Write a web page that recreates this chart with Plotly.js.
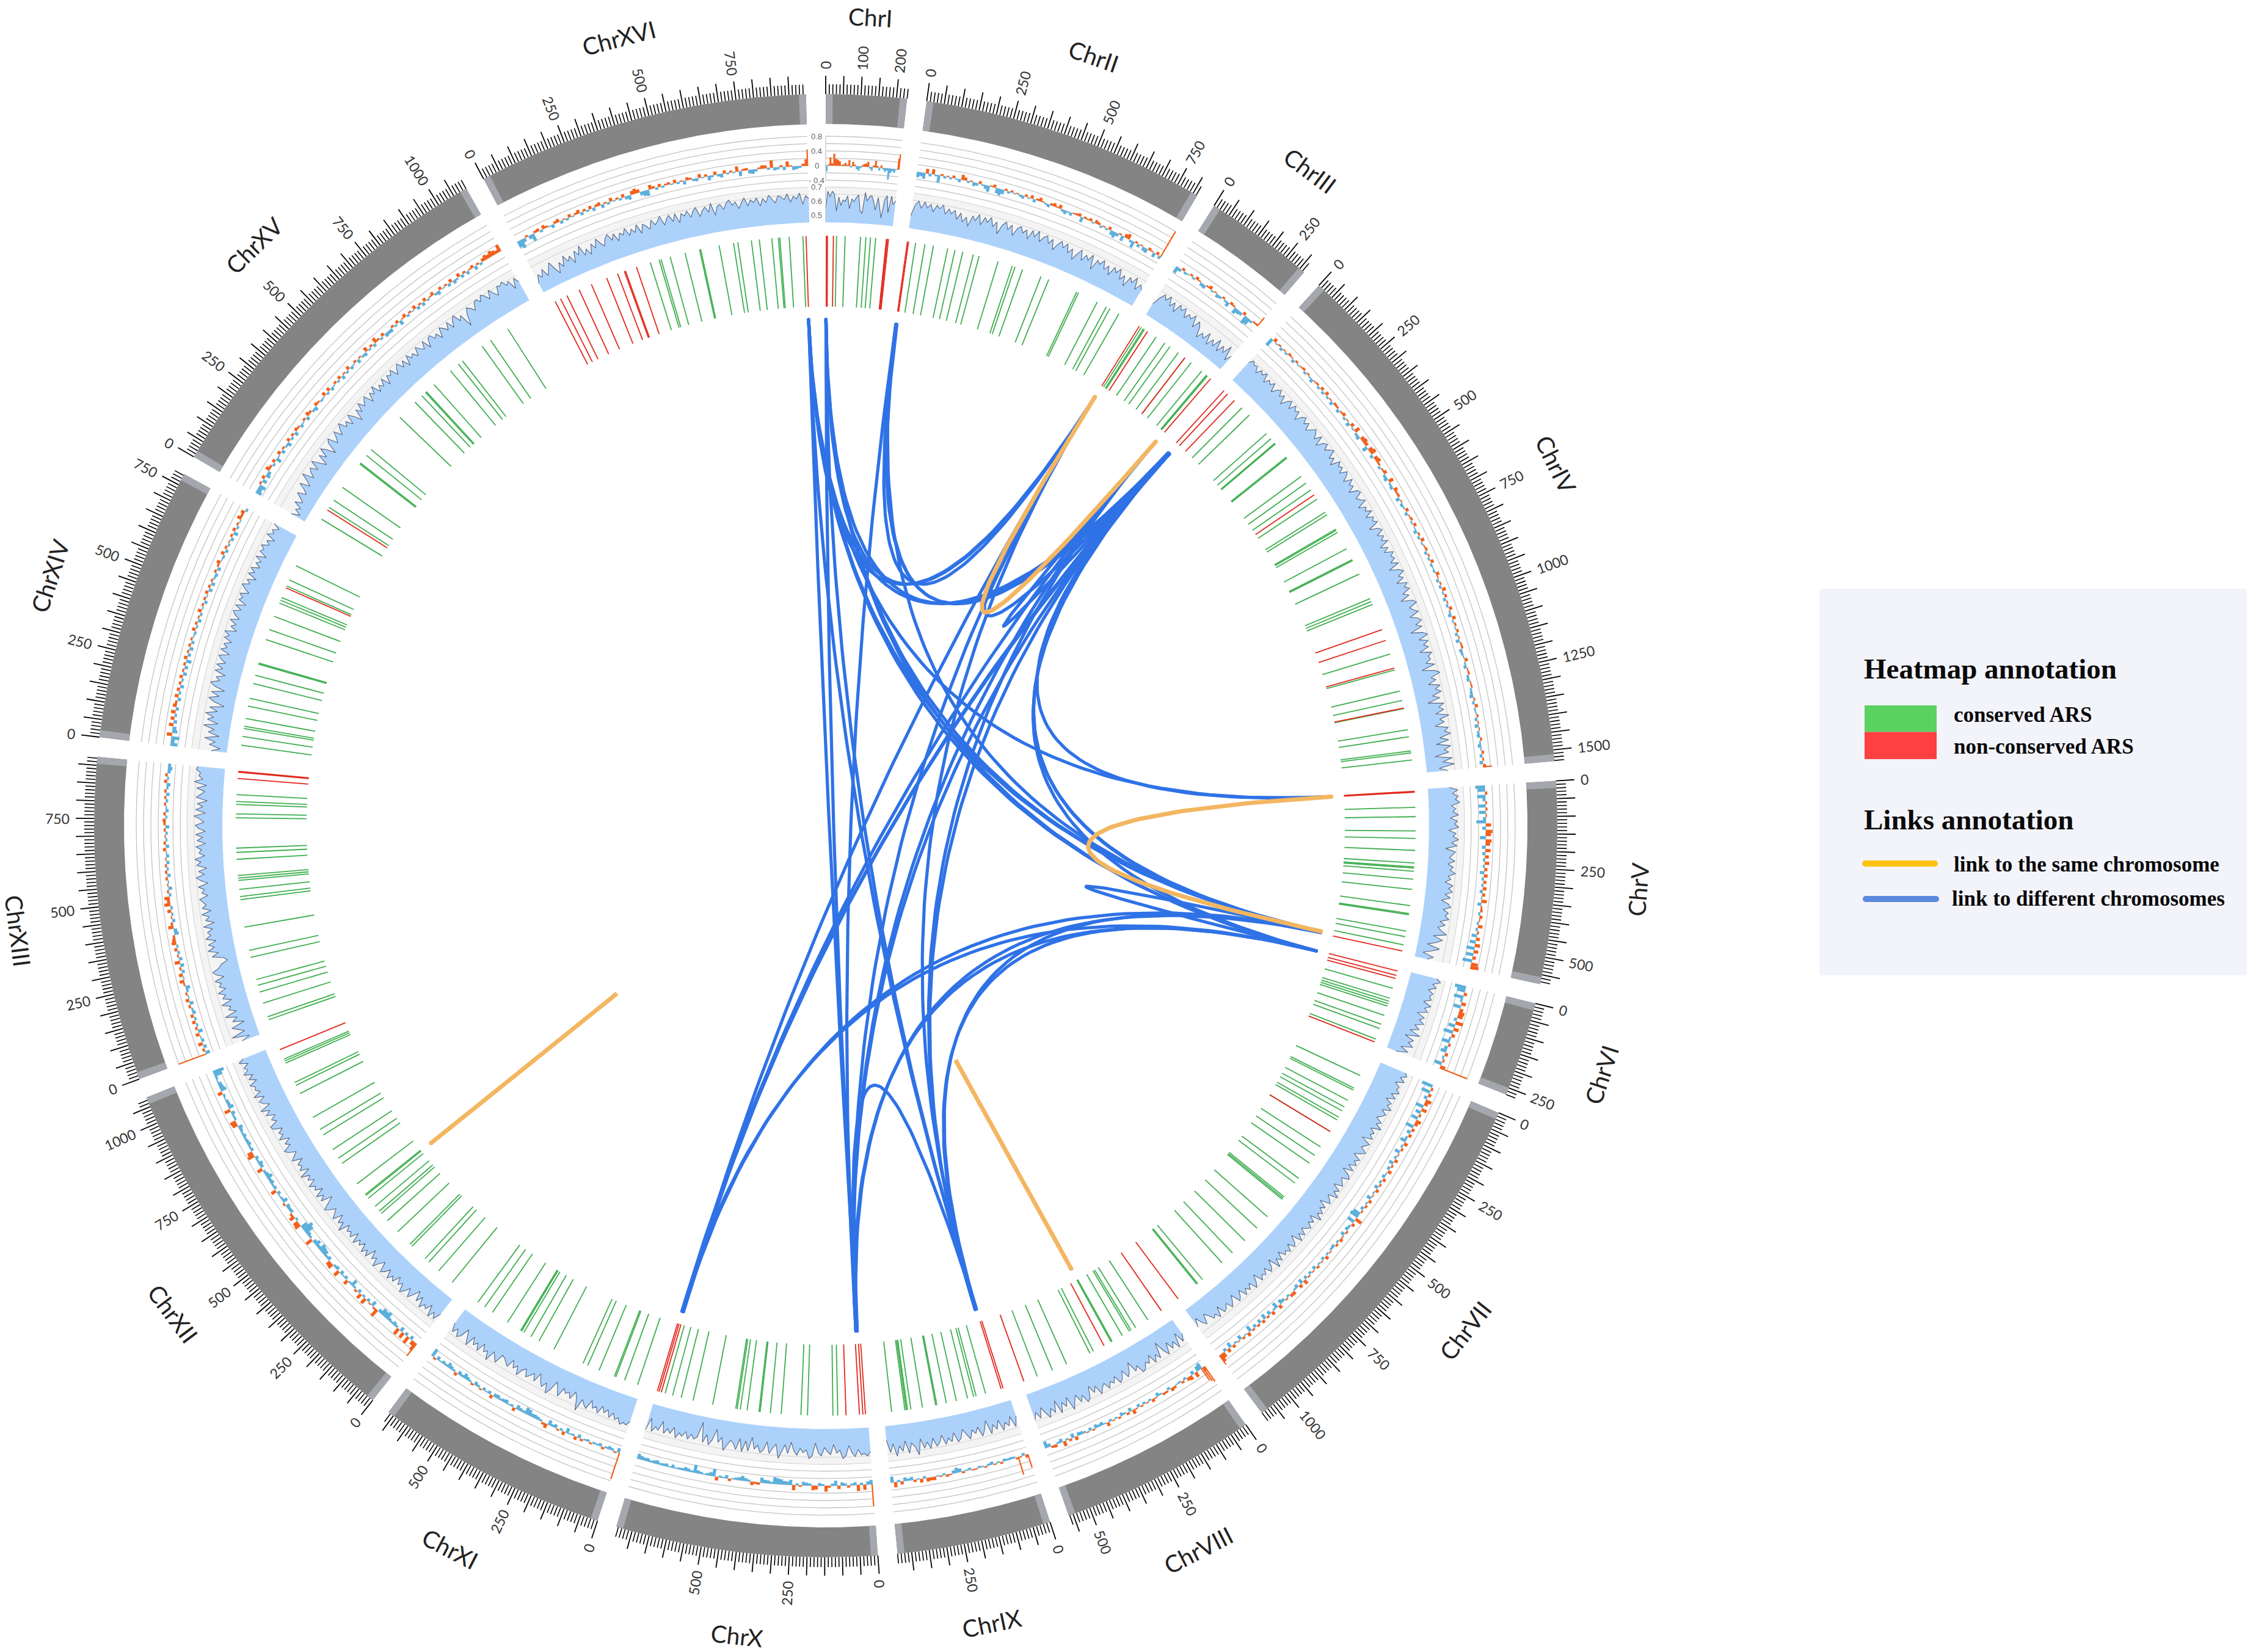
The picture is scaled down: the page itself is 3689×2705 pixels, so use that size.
<!DOCTYPE html>
<html><head><meta charset="utf-8">
<script src="https://cdn.plot.ly/plotly-3.0.1.min.js"></script>
<style>html,body{margin:0;padding:0;background:#fff}#c{width:3689px;height:2705px}</style>
</head><body><div id="c"></div>
<script>
const chromNames=["ChrI","ChrII","ChrIII","ChrIV","ChrV","ChrVI","ChrVII","ChrVIII","ChrIX","ChrX","ChrXI","ChrXII","ChrXIII","ChrXIV","ChrXV","ChrXVI"];
const chromLengthsKb=[230,813,316,1532,577,270,1091,563,440,746,667,1078,924,784,1091,948];
const labelStepKb=[100,250,250,250,250,250,250,250,250,250,250,250,250,250,250,250];
const skewAxisTicks=[0.8,0.6,0.4,0.2,0,-0.2,-0.4];
const skewAxisLabels=["0.8","0.4","0","- 0.4"];
const skewAxisLabelValues=[0.8,0.4,0,-0.4];
const gcAxisTicks=[0.7,0.6,0.5];

const arsConservedI=[38,68,122,141,157,175], arsNonI=[2,6,27,213,216,220];
const arsConservedII=[30,63,93,144,170,198,236,257,326,378,388,416,485,514,621,628,701,737,751,787], arsNonII=[1,5];
const arsConservedIII=[10,19,23,72,109,131,167,196,224,271,293,297], arsNonIII=[2,36,196,312];
const arsConservedIV=[90,126,214,238,259,262,322,326,407,436,465,504,558,569,628,632,641,706,749,753,805,899,910,921,1105,1163,1239,1273,1302,1377,1402,1452,1459,1484], arsNonIV=[3,20,53,486,1015,1055,1156,1300];
const arsConservedV=[62,95,145,171,213,257,271,275,286,314,350,407,435,439,497,517,546], arsNonV=[6,9,568];
const arsConservedVI=[70,106,117,126,135,169,202,218,257], arsNonVI=[7,23,34,268];
const arsConservedVII=[70,119,126,167,193,209,234,245,292,356,392,425,490,511,572,578,583,663,717,778,839,889,979,1001,1005], arsNonVII=[292,1088];
const arsConservedVIII=[70,121,139,146,175,216,220,290,304,394,448,505], arsNonVIII=[13,248,555];
const arsConservedIX=[77,111,120,142,182,218,252,256,303,344,356,360,365,412], arsNonIX=[13,20];
const arsConservedX=[105,122,211,234,303,341,377,381,423,447,458,463,545,615,658,689,716], arsNonX=[8,17,29,76,730,738,744];
const arsConservedXI=[15,63,96,101,159,202,220,333,393,425,454,463,467,521,584,617,646], arsNonXI=[];
const arsConservedXII=[37,99,145,163,226,236,297,350,383,394,416,453,466,470,517,606,628,664,725,747,796,891,923,934,1009,1017,1024], arsNonXII=[1060];
const arsConservedXIII=[38,49,99,140,164,185,265,290,373,470,481,506,538,546,555,612,636,651,757,771,804,814,838], arsNonXIII=[895,917,920];
const arsConservedXIV=[32,63,91,99,127,171,199,252,282,322,326,412,449,498,548,559,569,613,636,691], arsNonXIV=[606];
const arsConservedXV=[37,86,116,170,272,276,310,336,487,562,595,612,616,653,728,764,782,868,904,976], arsNonXV=[75];
const arsConservedXVI=[381,413,420,453,507,559,563,629,680,695,743,771,815,838,843,876,924], arsNonXVI=[21,42,67,114,161,219,260,285,289,330,935];

// GC content (percent) read along each chromosome
const gcI=[55,67,63,67,65,53,63,57,61,60,64,55,62,60,63,65,54,52,67,61,64,65,61,55,64,57,50,63,66,54,66,60,63];
const gcII=[54,62,65,60,65,61,64,59,64,62,65,59,63,60,63,57,62,56,60,54,62,59,64,57,63,60,64,58,62,54,61,64,59,63,56,62,64,60,63,57,64,60,65,58,62,64,59,63,56,61,64,60,64,58,62,55,60,64,57,62,59,64,54,62,60,64,58,62,56,63,60,64,57,61,54,62,59,64,56,61,58];
const gcIII=[54,60,64,61,65,59,63,57,64,61,64,58,62,60,64,56,62,59,52,57,54,60,52,58,54,61,53,59,55,62,52,57];
const gcIV=[62,65,63,64,60,64,62,65,59,63,61,64,58,62,64,60,63,57,62,64,59,64,61,63,57,62,64,60,63,58,61,64,62,59,64,57,62,64,60,63,65,59,62,57,64,61,63,59,64,62,58,64,60,62,57,63,64,59,61,64,57,62,60,64,58,63,61,64,56,62,64,59,63,60,64,57,62,58,64,61,63,59,64,56,62,65,60,63,57,64,61,64,58,62,55,63,65,59,61,64,57,62,64,59,63,54,62,65,58,64,60,63,56,64,61,62,58,64,54,63,66,59,62,56,64,60,64,57,62,53,64,60,63,57,66,59,62,55,64,61,65,57,63,54,64,59,62,52,64,57,65,54,60];
const gcV=[60,66,62,66,64,67,61,64,62,66,60,65,63,66,59,64,62,66,61,65,57,64,62,60,64,59,63,61,65,60,62,58,64,61,64,59,63,57,62,64,59,63,61,64,58,62,57,60,64,55,62,58,52,61,56,50,58,54];
const gcVI=[64,67,62,65,60,64,62,64,59,65,61,64,57,63,60,64,58,62,56,64,54,61,58,62,54,60,52];
const gcVII=[64,66,62,66,60,64,63,66,61,65,59,64,62,66,60,64,62,59,64,61,66,59,63,61,64,57,64,62,60,65,62,58,64,61,64,59,64,57,63,65,60,62,64,58,64,61,66,59,62,64,57,63,60,64,61,66,58,63,60,64,62,59,64,60,65,57,62,64,59,64,61,63,58,64,60,66,57,62,64,59,63,61,64,57,62,65,59,63,60,64,58,62,64,57,61,64,59,62,63,57,64,60,62,58,55,62,59,54,60];
const gcVIII=[57,62,54,64,58,62,56,64,60,52,63,59,64,57,62,60,64,65,59,62,54,60,63,57,62,64,58,62,60,64,59,61,65,58,62,56,64,66,60,64,58,62,67,57,63,59,66,56,64,60,66,62,57,64,59,64];
const gcIX=[57,64,56,62,59,64,56,62,58,64,54,60,64,57,61,58,64,60,56,62,64,57,63,60,64,57,62,64,58,65,60,64,57,68,62,59,66,57,64,60,67,58,64,55];
const gcX=[62,65,63,64,60,65,62,57,64,66,60,62,56,63,61,58,64,62,55,64,66,60,62,59,64,61,55,63,57,62,67,57,60,64,56,62,64,59,62,54,64,57,65,56,64,60,58,62,66,57,61,52,60,64,57,63,49,60,62,59,63,58,62,60,64,57,62,59,63,55,62,60,64,55,64];
const gcXI=[62,65,64,66,62,64,60,64,59,62,58,64,60,62,57,64,62,59,68,60,56,62,58,60,57,64,59,55,62,66,59,63,60,55,62,57,60,62,57,59,64,58,61,56,62,60,58,57,64,61,58,66,60,62,57,64,59,62,57,65,60,55,62,64,59,63,57];
const gcXII=[58,64,60,65,57,62,60,64,57,62,55,60,64,58,62,65,59,62,57,63,60,64,58,62,64,57,60,65,59,62,56,64,60,64,58,62,59,64,57,63,60,62,58,66,60,63,57,64,61,58,62,65,60,55,63,59,64,57,62,60,64,58,62,59,65,57,63,60,62,57,64,61,58,63,65,59,62,57,64,60,62,58,64,65,59,62,58,64,60,66,58,62,64,59,66,60,63,62,65,59,64,60,66,62,64,60,66,62];
const gcXIII=[58,52,64,54,58,62,52,60,56,64,55,60,58,64,56,62,59,64,58,62,60,64,57,62,64,59,57,52,54,62,57,64,59,63,57,64,60,62,58,64,56,62,59,64,57,63,60,62,64,58,62,60,64,57,62,65,59,63,57,64,61,65,58,62,60,64,57,63,59,64,57,62,64,58,61,65,57,64,59,63,56,64,61,58,64,57,66,60,63,62,65,64];
const gcXIV=[56,50,58,54,62,52,60,56,64,54,62,58,64,56,62,52,60,64,57,63,54,62,65,59,62,56,64,59,64,58,62,64,57,64,60,63,58,64,61,65,57,62,59,64,58,62,64,59,64,57,63,61,64,58,62,65,60,63,57,64,60,64,58,62,59,64,57,63,61,64,59,62,57,64,60,62,58,63];
const gcXV=[56,50,55,52,58,53,56,60,54,57,62,55,59,64,56,60,62,57,64,59,54,62,57,64,60,54,62,64,57,60,64,58,62,65,59,62,57,64,60,54,62,58,64,59,62,64,57,63,60,65,58,62,59,64,57,63,61,64,58,62,64,59,63,57,64,60,62,58,64,61,59,64,57,63,64,60,62,57,64,62,59,64,58,63,65,59,62,52,60,64,62,59,64,65,62,66,64,60,66,62,59,65,64,66,62,64,57,64,60];
const gcXVI=[52,58,55,60,54,58,62,56,52,59,55,62,57,60,54,62,58,64,56,60,55,62,58,64,60,57,62,64,59,63,57,62,60,64,58,62,59,64,57,63,61,58,64,60,62,65,58,62,64,59,64,57,63,61,64,59,63,65,58,62,64,60,66,57,63,64,60,64,66,62,64,59,63,66,60,64,62,65,59,64,61,66,63,60,65,64,62,66,60,64,62,66,58,64,62];

// GC skew (hundredths) read along each chromosome; short telomeric spikes are listed apart
const skewI=[-16,3,22,6,32,18,16,12,2,4,8,3,16,-4,12,4,-8,-12,-5,4,7,9,14,-5,-10,5,18,4,-8,7,-4,-10,-6,-30,-12,-6,-10,-2,30];
const skewII=[-14,-10,-16,12,-7,14,-4,-20,5,-6,3,-5,7,-3,-8,14,8,-5,3,-10,-7,7,-4,-10,-16,3,8,-14,-18,-12,5,-6,5,-3,3,-5,-8,6,-3,9,-8,5,10,3,-4,-8,6,9,3,10,-6,-10,-3,-8,3,5,8,-14,5,3,7,-4,9,6,-6,3,-5,8,-12,-16,-8,4,-14,10,14,-6,-18,5,-8,3,-10,-12,7,3,-12,8,-8];
const skewIII=[-18,-8,7,-6,-3,5,-5,8,3,-8,-10,4,9,-4,3,-9,-6,5,-5,-12,7,4,-16,-10,-8,8,-22,-18,-6,4,5];
const skewIV=[-22,9,-3,4,-7,3,-5,6,3,-8,5,-3,3,6,-6,4,-3,-9,3,5,-6,8,-7,9,-5,3,-9,6,5,-8,4,8,-6,3,-10,9,-4,14,-7,-10,10,13,9,-14,12,16,-8,10,13,5,-6,4,9,-7,-10,13,-5,-8,10,5,6,-10,3,-7,-4,8,-8,3,6,-4,8,-3,-9,5,-6,9,-4,3,6,-7,4,-5,8,-6,-3,-5,9,3,-7,4,-6,10,-4,6,-8,3,-6,8,-4,-9,9,-4,5,-3,6,-7,3,-10,4,5,-8,-6,-3,8,-4,-8,3,5,-6,-8,3,4,-5,-7,-10,4,-6,8,-4,-3,5,-7,3,-10,3,-6,-8,5,-4,-9,-3,6,-7,4,-9,8];
const skewV=[-26,-20,6,-22,-8,4,-20,5,-18,3,-8,-26,14,-10,18,14,-16,16,12,-10,14,-8,10,-6,12,-5,8,-12,10,-6,8,-5,10,-8,8,-3,14,-10,4,6,-5,8,3,-5,12,-6,5,-14,10,-16,14,-22,12,-20,9,-26,18,22];
const skewVI=[-30,-22,8,-26,-6,12,-20,10,16,14,-8,20,-18,14,-26,9,-5,-22,6,-9,-16,8,-5,5,-20,14];
const skewVII=[-30,6,-24,8,-9,16,10,-22,14,-14,6,-18,14,9,-22,8,-10,8,-6,-16,10,-5,6,-14,3,-6,9,-12,5,-8,10,-3,-8,8,-6,5,-10,8,-4,3,-12,8,-4,6,-8,4,-20,-24,18,-20,8,-6,-9,5,-10,3,8,-5,6,-8,-6,3,-5,9,-7,3,-4,6,-9,3,-7,4,-8,12,-12,9,-10,-5,9,8,-6,4,-8,-12,10,-16,-5,9,-10,5,-14,8,-10,6,-8,5,-16,10,-3,6,-12,3,-5,8,-14,10,-8,14,22];
const skewVIII=[12,-18,-14,14,-10,12,9,-6,6,-5,-3,6,9,-7,5,6,-4,-10,3,8,-5,3,-6,4,-8,3,12,-10,6,-5,-9,5,-4,3,-6,10,-3,-9,-6,-10,4,-8,3,-5,-8,-9,10,-12,6,-5,14,-10,-5,8,6,-9,-18];
const skewIX=[8,-7,3,5,-5,-6,-5,-7,5,-4,3,-8,-5,4,-3,-5,3,3,-6,-3,5,-10,-14,-8,3,6,-5,3,-3,9,8,10,-6,10,-3,6,-9,-6,-10,8,-5,14,-16];
const skewX=[-12,-9,14,-6,16,-8,-5,6,-6,-9,9,-14,-6,5,16,-5,-8,10,12,-6,-8,-10,4,-5,14,-14,-9,-10,-14,-16,-18,-5,-8,-9,-14,6,5,9,-5,-8,-13,-8,-6,-3,6,-9,-3,-5,10,-20,-10,-6,-3,-6,-8,-22,-5,-8,-10,-6,-5,-3,-9,-3,-8,-6,-5,-10,-8,-5,-9,-8,-10,-14];
const skewXI=[-12,4,-6,-9,-5,6,-8,-4,-5,4,-6,-4,6,-10,9,-5,-3,-14,9,-6,4,-10,-6,-14,12,6,-5,-8,-10,-9,-16,-18,-6,-8,-12,9,-6,-3,-10,-8,-5,-10,-9,9,-8,-3,-8,4,-6,-10,5,-5,-9,-14,-6,-10,8,-5,-9,-14,-5,-8,-3,-10,5,-22];
const skewXII=[24,12,-10,20,-8,16,-12,18,-6,-10,-5,-8,-20,-16,-18,-9,22,5,-14,3,-8,16,-6,14,-9,6,-5,-18,-5,12,-8,-3,-10,16,-9,-6,14,12,-10,-6,-14,-16,-20,-8,-16,-10,18,-6,-10,-24,-30,-18,16,14,-6,14,6,-9,-8,-10,5,-14,-6,-3,-9,14,-8,-5,-10,-8,-16,-10,-6,14,-9,-12,-5,-9,18,14,-8,-5,-10,-8,-6,-9,-5,-8,-12,14,16,-6,-5,-10,16,-14,-9,-8,-3,-6,12,-16,-12,-10,-3,-6,-22,-30];
const skewXIII=[-12,6,-9,12,-8,-3,10,-12,6,-5,9,-6,8,-9,-5,6,-10,9,-3,5,-6,-12,4,12,-3,10,-8,5,-10,14,-9,4,-6,8,-5,12,9,6,-12,-9,14,6,-8,3,-5,10,-6,16,8,14,-6,5,-10,3,-3,6,-9,6,-5,5,-8,3,-8,-3,8,-9,6,-5,3,-6,5,-10,6,8,-5,6,-8,-3,5,-6,5,-9,6,-5,-10,8,-5,6,-8,-12,-8];
const skewXIV=[-18,-10,-22,14,-14,-10,12,-9,10,-6,12,-8,10,6,-9,10,-6,8,-10,6,-5,8,-10,5,-9,6,-14,9,-8,5,-10,6,-8,5,-3,-6,9,-5,6,-9,4,-6,10,-3,5,-8,6,-3,8,-9,6,-10,5,-5,-8,6,-9,5,10,-3,-6,9,-8,6,-5,3,-8,6,-12,8,-6,5,-3,12,6,10,-6];
const skewXV=[-16,-12,-18,5,-12,8,-12,-9,12,6,-6,8,-14,-3,9,-9,5,-5,-12,8,-6,6,-10,8,5,-8,-3,6,-9,10,6,-6,-10,8,5,-5,-3,10,-6,9,-8,-3,6,-5,8,-10,4,-6,9,-8,-3,6,-10,4,-6,-9,12,-5,6,-8,14,5,-6,8,-10,-8,-9,6,-5,8,-12,3,9,-6,5,-3,10,-8,5,-9,9,-5,3,9,-6,-10,8,-3,5,-8,9,-10,-5,10,-8,6,-9,3,8,-10,5,-6,9,14,10,16,12,8,20];
const skewXVI=[-18,-24,-10,5,-10,-20,6,8,-6,10,5,-3,-9,6,9,-8,3,-6,8,-3,5,10,-8,6,-5,8,-9,6,9,-10,4,-6,10,-3,5,-6,9,-8,-12,10,14,9,-10,-14,-16,12,6,-6,8,-5,4,6,-3,9,-5,3,-10,8,5,-6,-8,10,-3,6,-12,-5,9,-6,-10,8,-4,5,-3,14,-14,5,6,-10,-12,-6,4,9,8,-5,20,-8,-6,5,-9,14,3,-10,-8,-5,6,18];
// thin spikes: [chromosome index, kb, skew value]
const skewSpikes=[[0,229,0.42],[1,812,0.8],[2,315,0.3],[3,1530,0.24],[4,576,0.12],[5,269,0.8],[6,1090,0.3],[7,1,0.5],[7,7,0.45],[7,13,0.38],[8,1,0.38],[8,32,0.5],[9,2,0.6],[10,1,0.75],[11,2,0.42],[12,1,0.8],[15,947,0.45]];

const gcTracks=[gcI,gcII,gcIII,gcIV,gcV,gcVI,gcVII,gcVIII,gcIX,gcX,gcXI,gcXII,gcXIII,gcXIV,gcXV,gcXVI];
const skewTracks=[skewI,skewII,skewIII,skewIV,skewV,skewVI,skewVII,skewVIII,skewIX,skewX,skewXI,skewXII,skewXIII,skewXIV,skewXV,skewXVI];
const arsC=[arsConservedI,arsConservedII,arsConservedIII,arsConservedIV,arsConservedV,arsConservedVI,arsConservedVII,arsConservedVIII,arsConservedIX,arsConservedX,arsConservedXI,arsConservedXII,arsConservedXIII,arsConservedXIV,arsConservedXV,arsConservedXVI];
const arsN=[arsNonI,arsNonII,arsNonIII,arsNonIV,arsNonV,arsNonVI,arsNonVII,arsNonVIII,arsNonIX,arsNonX,arsNonXI,arsNonXII,arsNonXIII,arsNonXIV,arsNonXV,arsNonXVI];

// link ends: [chromosome index, kb]
const hubA=[15,934], hubB=[0,1], hubC=[1,1], hubC2=[1,5], hubD=[2,2], hubE=[2,310], hubF=[3,7], hubF2=[3,13], hubG=[4,8], hubH=[4,560], hubH2=[4,565], hubI=[5,9], hubK=[8,20], hubK2=[8,25], hubL=[9,19], hubL2=[9,24], hubM=[9,735], hubM2=[9,741], hubJ=[7,218], hubR=[11,466];
const linksSame=[[hubD,hubE],[hubG,hubH],[hubJ,hubJ],[hubR,hubR]];
const linksDifferent=[[hubA,hubD],[hubB,hubD],[hubC,hubD],[hubA,hubF],[hubB,hubF],[hubC,hubF],[hubC2,hubF2],[hubD,hubF],[hubE,hubF2],[hubF,hubG],[hubF,hubH],[hubF2,hubI],[hubF,hubH2],[hubA,hubG],[hubA,hubH],[hubA,hubI],[hubB,hubH],[hubB,hubI],[hubC,hubH],[hubA,hubK],[hubB,hubK],[hubD,hubK],[hubE,hubK2],[hubF,hubK2],[hubA,hubL],[hubB,hubL],[hubC,hubL2],[hubD,hubL],[hubE,hubL2],[hubF,hubL2],[hubD,hubM],[hubE,hubM],[hubF,hubM],[hubF2,hubM2],[hubF2,hubM],[hubH,hubI],[hubH,hubK],[hubI,hubK2],[hubH2,hubL],[hubI,hubL2],[hubH,hubM],[hubI,hubM2],[hubK,hubL]];

// ---- geometry
const GAP=1.55, R_OUT=1198, R_IN=1149, CAP=0.55;
const total=chromLengthsKb.reduce((a,b)=>a+b,0);
const K=(360-16*GAP)/total;
const starts=[];{let a=0;chromLengthsKb.forEach(l=>{starts.push(a);a+=l*K+GAP;});}
const ang=(c,kb)=>starts[c]+kb*K;
const px=(a,r)=>r*Math.sin(a*Math.PI/180), py=(a,r)=>-r*Math.cos(a*Math.PI/180);
const rSkew=v=>1081+v*60, rGC=v=>999.5+(v-0.5)*232;
function pushArc(X,Y,a0,a1,r){const n=Math.max(2,Math.ceil(Math.abs(a1-a0)/0.2));for(let i=0;i<=n;i++){const a=a0+(a1-a0)*i/n;X.push(px(a,r));Y.push(py(a,r));}}
function band(list,r0,r1){const X=[],Y=[];list.forEach(([a0,a1])=>{pushArc(X,Y,a0,a1,r1);pushArc(X,Y,a1,a0,r0);X.push(px(a0,r1),null);Y.push(py(a0,r1),null);});return [X,Y];}
function poly(X,Y,color,extra){return Object.assign({x:X,y:Y,mode:'lines',type:'scatter',fill:'toself',fillcolor:color,line:{width:0,color:color},hoverinfo:'skip',showlegend:false},extra||{});}
function lines(X,Y,color,w){return {x:X,y:Y,mode:'lines',type:'scatter',line:{width:w,color:color},hoverinfo:'skip',showlegend:false,connectgaps:false};}
const data=[];
const ends=chromLengthsKb.map((l,i)=>[starts[i],starts[i]+l*K]);
{ // ideogram
 let [X,Y]=band(ends,R_IN,R_OUT);data.push(poly(X,Y,'#848484'));
 const caps=[];ends.forEach(([a,b])=>{caps.push([a,a+CAP],[b-CAP,b]);});
 [X,Y]=band(caps,R_IN,R_OUT);data.push(poly(X,Y,'#a5a7ae'));
 const mx=[],my=[],Mx=[],My=[];
 chromLengthsKb.forEach((l,c)=>{for(let k=0;k<=l;k+=10){const a=ang(c,k);const big=k%50===0;const r=R_OUT+(big?30:16);(big?Mx:mx).push(px(a,R_OUT),px(a,r),null);(big?My:my).push(py(a,R_OUT),py(a,r),null);}});
 data.push(lines(mx,my,'#000',1.6));data.push(lines(Mx,My,'#000',1.8));
}
{ // skew grid
 const X=[],Y=[];ends.forEach(([a,b])=>skewAxisTicks.forEach(t=>{pushArc(X,Y,a,b,rSkew(t));X.push(null);Y.push(null);}));
 data.push(lines(X,Y,'#c4c4c4',1.3));
}
{ // GC band
 let [X,Y]=band(ends,988,rGC(0.7));data.push(poly(X,Y,'#f4f4f4'));
 const gx=[],gy=[];ends.forEach(([a,b])=>[0.7,0.65].forEach(t=>{pushArc(gx,gy,a,b,rGC(t));gx.push(null);gy.push(null);}));
 data.push(lines(gx,gy,'#d4d4d4',1.1));
 const fx=[],fy=[],lx=[],ly=[];
 gcTracks.forEach((g,c)=>{const [a,b]=ends[c];pushArc(fx,fy,a,b,988);
  for(let i=g.length-1;i>=0;i--){const t=a+(b-a)*i/(g.length-1);const r=rGC(g[i]/100);fx.push(px(t,r));fy.push(py(t,r));}
  fx.push(null);fy.push(null);
  g.forEach((v,i)=>{const t=a+(b-a)*i/(g.length-1);const r=rGC(v/100);lx.push(px(t,r));ly.push(py(t,r));});lx.push(null);ly.push(null);});
 data.push(poly(fx,fy,'#acd2fb'));data.push(lines(lx,ly,'#56637f',1.1));
}
{ // skew histogram
 const ox=[],oy=[],bx=[],by=[];
 skewTracks.forEach((s,c)=>{const [a,b]=ends[c];const w=(b-a)/s.length;
  s.forEach((v,i)=>{if(!v)return;const t0=a+i*w,t1=t0+w;const X=v>0?ox:bx,Y=v>0?oy:by;const r=rSkew(v/100),r0=rSkew(0);
   X.push(px(t0,r0),px(t0,r),px(t1,r),px(t1,r0),px(t0,r0),null);Y.push(py(t0,r0),py(t0,r),py(t1,r),py(t1,r0),py(t0,r0),null);});});
 data.push(poly(bx,by,'#5cb0dc'));data.push(poly(ox,oy,'#f4601b'));
 const sx=[],sy=[];skewSpikes.forEach(([c,k,v])=>{const a=ang(c,k);sx.push(px(a,rSkew(0)),px(a,rSkew(v)),null);sy.push(py(a,rSkew(0)),py(a,rSkew(v)),null);});
 data.push(lines(sx,sy,'#f4601b',2.2));
}
{ // heat track
 const hl=(lists,color)=>{const X=[],Y=[];lists.forEach((l,c)=>l.forEach(k=>{const a=ang(c,k);X.push(px(a,850),px(a,966),null);Y.push(py(a,850),py(a,966),null);}));data.push(lines(X,Y,color,1.8));};
 hl(arsC,'#3fae4f');hl(arsN,'#e2281c');
}
{ // links
 const RL=829;
 const bez=(l)=>{const a0=ang(l[0][0],l[0][1]),a1=ang(l[1][0],l[1][1]);
  let d=a1-a0;if(d>180)d-=360;if(d<-180)d+=360;const am=a0+d/2;
  const RC=Math.max(0,48*(1-Math.abs(d)/100));
  const P0=[px(a0,RL),py(a0,RL)],P2=[px(a1,RL),py(a1,RL)],C=[px(am,RC),py(am,RC)];
  const X=[],Y=[];for(let i=0;i<=70;i++){const t=i/70,u=1-t;X.push(u*u*P0[0]+2*u*t*C[0]+t*t*P2[0]);Y.push(u*u*P0[1]+2*u*t*C[1]+t*t*P2[1]);}
  return [X,Y];};
 const add=(ls,color,w)=>{const X=[],Y=[],eX=[],eY=[];ls.forEach(l=>{const [a,b]=bez(l);X.push(...a,null);Y.push(...b,null);eX.push(a[0],a[70]);eY.push(b[0],b[70]);});
  data.push(lines(X,Y,color,w));data.push({x:eX,y:eY,mode:'markers',type:'scatter',marker:{size:w,color:color},hoverinfo:'skip',showlegend:false});};
 add(linksDifferent,'#2f72e6',5.2);add(linksSame,'#f3b661',7);
}
// ---- text
const ann=[];
const T=(x,y,text,size,color,family,extra)=>ann.push(Object.assign({x,y,xref:'x',yref:'y',text,showarrow:false,font:{size,color,family},xanchor:'center',yanchor:'middle'},extra||{}));
chromNames.forEach((n,c)=>{const m=ang(c,chromLengthsKb[c]/2);const ta=(m<90)?m:(m>270?m-360:m-180);
 const rl=c===0?1326:1334;
 T(px(m,rl),py(m,rl),n,39,'#222','Lato',{textangle:ta});
 for(let k=0;k<=chromLengthsKb[c];k+=labelStepKb[c]){const a=ang(c,k);const s=String(k);const r=1238+s.length*0.58*23/2;
  T(px(a,r),py(a,r),s,23,'#333','Lato',{textangle:a<180?a-90:a-270});}
});
const axisX=-15;
skewAxisLabels.forEach((t,i)=>T(axisX,-rSkew(skewAxisLabelValues[i]),t,13,'#666','Liberation Sans'));
gcAxisTicks.forEach(v=>T(axisX,-rGC(v),v.toFixed(1),13,'#666','Liberation Sans'));
const OX=1352,OY=1352;
const L=(x,y,text,size)=>ann.push({x:x-OX,y:y-OY,xref:'x',yref:'y',text:'<b>'+text+'</b>',showarrow:false,xanchor:'left',yanchor:'middle',font:{size,color:'#0a0a0a',family:'Liberation Serif'}});
L(3050,1095,'Heatmap annotation',47);
L(3197,1170,'conserved ARS',35);
L(3197,1222,'non-conserved ARS',35);
L(3050,1342,'Links annotation',47);
L(3197,1415,'link to the same chromosome',35);
L(3194,1471,'link to different chromosomes',35);
const rect=(x0,y0,x1,y1,c)=>({type:'rect',xref:'x',yref:'y',x0:x0-OX,x1:x1-OX,y0:y0-OY,y1:y1-OY,fillcolor:c,line:{width:0},layer:'below'});
const shapes=[rect(2979,964,3679,1597,'#f3f4fa'),rect(3053,1155,3171,1198.5,'#5bd160'),rect(3053,1198.5,3171,1243,'#fe4040')];
// axis spines in the gap
['skew','gc'].forEach(k=>{const r0=k==='skew'?rSkew(-0.4):988,r1=k==='skew'?rSkew(0.8):rGC(0.7);
 data.push(lines([0,0],[-r0,-r1],'#c4c4c4',1.3));});
// legend samples
const leg=(x0,x1,y,c)=>{data.push({x:[x0-OX,x1-OX],y:[y-OY,y-OY],mode:'lines+markers',type:'scatter',line:{width:10,color:c},marker:{size:10,color:c},hoverinfo:'skip',showlegend:false});};
leg(3054,3168,1414,'#fcc20c');leg(3055,3170,1472,'#5b8ae0');

Plotly.newPlot('c',data,{width:3689,height:2705,margin:{l:0,r:0,t:0,b:0,pad:0},paper_bgcolor:'#fff',plot_bgcolor:'#fff',showlegend:false,
 xaxis:{range:[-OX,3689-OX],visible:false,fixedrange:true},
 yaxis:{range:[2705-OY,-OY],visible:false,fixedrange:true},
 annotations:ann,shapes:shapes},{staticPlot:true,displayModeBar:false});
</script></body></html>
